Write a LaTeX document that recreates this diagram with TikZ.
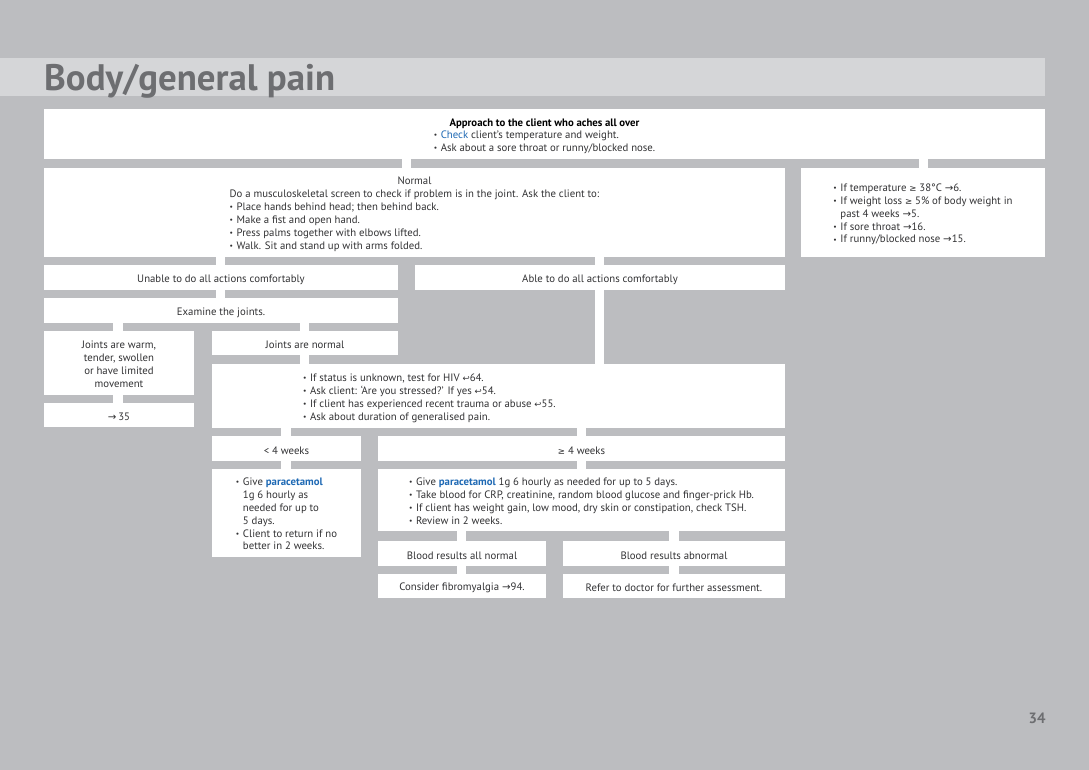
\documentclass[tikz,border=0pt]{standalone}
\usepackage{fontspec}
\setmainfont{PT Sans}
\newfontfamily\symf{DejaVu Sans}
\usepackage{graphicx}
\definecolor{bggray}{RGB}{188,189,192}
\definecolor{bandgray}{RGB}{213,214,216}
\definecolor{titlegray}{RGB}{109,110,113}
\definecolor{txt}{RGB}{50,50,52}
\definecolor{bluetxt}{RGB}{30,105,180}
\newcommand\bl{\makebox[7bp][l]{\raisebox{0.8bp}{\scalebox{0.7}{•}}}}
\newcommand\ind{\hspace*{7bp}}
\newcommand\ar{{\symf\scalebox{0.95}{→}}}
\newcommand\rt{{\symf\scalebox{0.8}{↩}}}
\newcommand\gee{{\symf\scalebox{0.8}{≥}}}
\newcommand\bw[1]{\textcolor{bluetxt}{#1}}
\newcommand\bbw[1]{\textcolor{bluetxt}{\bfseries #1}}
\newcommand\dn[1]{\raisebox{0pt}[\dimexpr\height+4bp\relax][\depth]{#1}}
\begin{document}
\begin{tikzpicture}[x=1bp,y=-1bp,
  box/.style={fill=white, inner sep=0pt, outer sep=0pt, anchor=north west,
    font=\fontsize{10.8}{13}\selectfont, text=txt, align=center},
  conn/.style={draw=white, line width=9.5bp, line cap=butt},
  titlestyle/.style={font=\fontsize{37}{42}\selectfont\bfseries, text=titlegray, inner sep=0pt, anchor=base west}
]
\useasboundingbox (0,0) rectangle (1089,770);
\fill[bggray] (0,0) rectangle (1089,770);
\fill[bandgray] (0,58) rectangle (1045,96);
\node[titlestyle] (title) at (44,91) {Body/general pain};
\node[font=\fontsize{15}{18}\selectfont\bfseries, text=titlegray, inner sep=0pt] (page) at (1037,718) {34};

% boxes
\node[box, minimum width=1001bp, minimum height=50bp] (top) at (44,109)
 {\dn{\begin{tabular}{@{}l@{}}\multicolumn{1}{@{}c@{}}{\textcolor{black}{\bfseries Approach to the client who aches all over}}\\[-0.5bp]
 \bl\bw{Check} client’s temperature and weight.\\[-0.5bp]
 \bl Ask about a sore throat or runny/blocked nose.\end{tabular}}};
\node[box, minimum width=741bp, minimum height=89bp] (normal) at (44,168)
 {\dn{\begin{tabular}{@{}l@{}}\multicolumn{1}{@{}c@{}}{Normal}\\
 Do a musculoskeletal screen to check if problem is in the joint. Ask the client to:\\
 \bl Place hands behind head; then behind back.\\
 \bl Make a fist and open hand.\\
 \bl Press palms together with elbows lifted.\\
 \bl Walk. Sit and stand up with arms folded.\end{tabular}}};
\node[box, minimum width=244bp, minimum height=89bp] (right) at (801,168)
 {\dn{\begin{tabular}{@{}l@{}}
 \bl If temperature \gee{} 38°C \ar6.\\
 \bl If weight loss \gee{} 5\% of body weight in\\
 \ind past 4 weeks \ar5.\\
 \bl If sore throat \ar16.\\
 \bl If runny/blocked nose \ar15.\end{tabular}}};
\node[box, minimum width=354bp, minimum height=25bp] (unable) at (44,265) {\dn{Unable to do all actions comfortably}};
\node[box, minimum width=370bp, minimum height=25bp] (able) at (415,265) {\dn{Able to do all actions comfortably}};
\node[box, minimum width=354bp, minimum height=25bp] (examine) at (44,298) {\dn{Examine the joints.}};
\node[box, minimum width=150bp, minimum height=64bp] (warm) at (44,331) {\dn{\begin{tabular}{@{}c@{}}Joints are warm,\\ tender, swollen\\ or have limited\\ movement\end{tabular}}};
\node[box, minimum width=186bp, minimum height=24bp] (jnormal) at (212,331) {\dn{Joints are normal}};
\node[box, minimum width=150bp, minimum height=24bp] (ref35) at (44,403) {\dn{\ar\,35}};
\node[box, minimum width=573bp, minimum height=64bp] (info) at (212,364)
 {\dn{\makebox[573bp][l]{\hspace*{91bp}\begin{tabular}{@{}l@{}}
 \bl If status is unknown, test for HIV \rt64.\\
 \bl Ask client: ‘Are you stressed?’ If yes \rt54.\\
 \bl If client has experienced recent trauma or abuse \rt55.\\
 \bl Ask about duration of generalised pain.\end{tabular}}}};
\node[box, minimum width=149bp, minimum height=25bp] (lt4) at (212,436) {\dn{< 4 weeks}};
\node[box, minimum width=407bp, minimum height=25bp] (ge4) at (378,436) {\dn{\gee{} 4 weeks}};
\node[box, minimum width=149bp, minimum height=88bp] (para) at (212,469)
 {\dn{\begin{tabular}{@{}l@{}}
 \bl Give \bbw{paracetamol}\\
 \ind 1g 6 hourly as\\
 \ind needed for up to\\
 \ind 5 days.\\
 \bl Client to return if no\\
 \ind better in 2 weeks.\end{tabular}}};
\node[box, minimum width=407bp, minimum height=62bp] (big) at (378,469)
 {\dn{\begin{tabular}{@{}l@{}}
 \bl Give \bbw{paracetamol} 1g 6 hourly as needed for up to 5 days.\\
 \bl Take blood for CRP, creatinine, random blood glucose and finger-prick Hb.\\
 \bl If client has weight gain, low mood, dry skin or constipation, check TSH.\\
 \bl Review in 2 weeks.\end{tabular}}};
\node[box, minimum width=168bp, minimum height=25bp] (bnorm) at (378,541) {\dn{Blood results all normal}};
\node[box, minimum width=222bp, minimum height=25bp] (babn) at (563,541) {\dn{Blood results abnormal}};
\node[box, minimum width=168bp, minimum height=24bp] (consider) at (378,574) {\dn{Consider fibromyalgia \ar94.}};
\node[box, minimum width=222bp, minimum height=24bp] (refer) at (563,574) {\dn{Refer to doctor for further assessment.}};

% connector x positions
\coordinate (cTopN) at (406.5,0);
\coordinate (cTopR) at (923.5,0);
\coordinate (cU) at (220.5,0);
\coordinate (cA) at (599.5,0);
\coordinate (cW) at (118,0);
\coordinate (cJ) at (304.5,0);
\coordinate (cL) at (286,0);
\coordinate (cG) at (581.5,0);
\coordinate (cBN) at (461.5,0);
\coordinate (cBA) at (674,0);

\draw[conn] (top.south -| cTopN) -- (normal.north -| cTopN);
\draw[conn] (top.south -| cTopR) -- (right.north -| cTopR);
\draw[conn] (normal.south -| cU) -- (unable.north -| cU);
\draw[conn] (normal.south -| cA) -- (able.north -| cA);
\draw[conn] (unable.south -| cU) -- (examine.north -| cU);
\draw[conn] (examine.south -| cW) -- (warm.north -| cW);
\draw[conn] (examine.south -| cJ) -- (jnormal.north -| cJ);
\draw[conn] (warm.south -| cW) -- (ref35.north -| cW);
\draw[conn] (jnormal.south -| cJ) -- (info.north -| cJ);
\draw[conn] (able.south -| cA) -- (info.north -| cA);
\draw[conn] (info.south -| cL) -- (lt4.north -| cL);
\draw[conn] (info.south -| cG) -- (ge4.north -| cG);
\draw[conn] (lt4.south -| cL) -- (para.north -| cL);
\draw[conn] (ge4.south -| cG) -- (big.north -| cG);
\draw[conn] (big.south -| cBN) -- (bnorm.north -| cBN);
\draw[conn] (big.south -| cBA) -- (babn.north -| cBA);
\draw[conn] (bnorm.south -| cBN) -- (consider.north -| cBN);
\draw[conn] (babn.south -| cBA) -- (refer.north -| cBA);
\end{tikzpicture}
\end{document}
